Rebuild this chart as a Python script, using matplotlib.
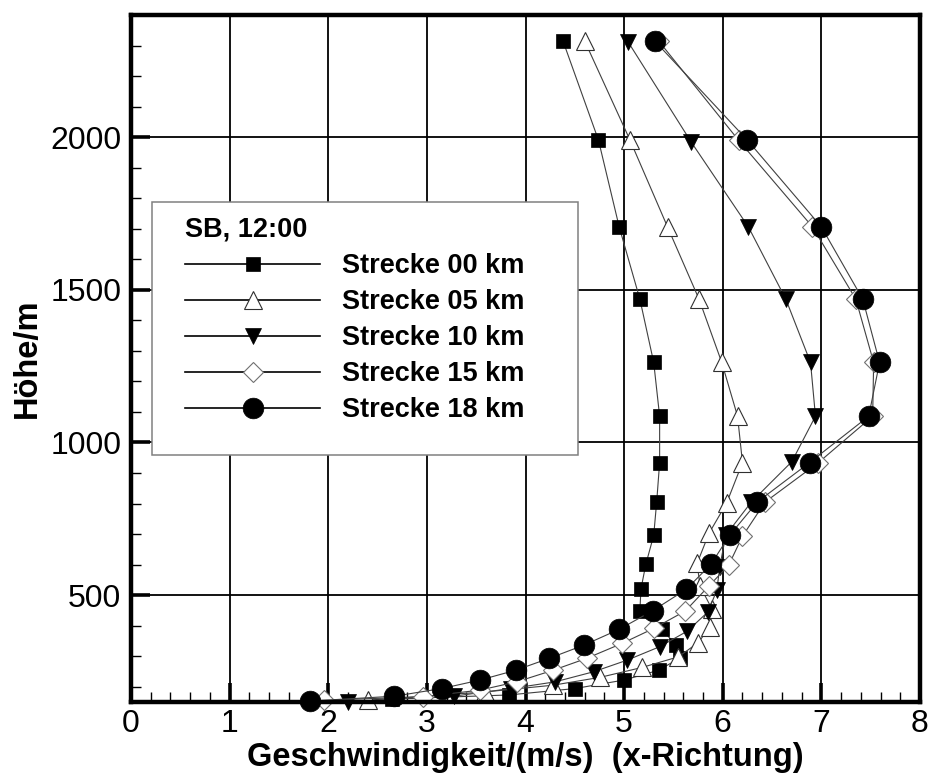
import matplotlib
matplotlib.use("Agg")
import matplotlib.pyplot as plt
from matplotlib.lines import Line2D
from matplotlib.patches import Rectangle
from matplotlib.ticker import MultipleLocator

plt.rcParams['font.family'] = ['Liberation Sans', 'DejaVu Sans']

# Hoehen (m) und Geschwindigkeiten (m/s) je Strecke
h00 = [2315, 1990, 1706, 1469, 1262, 1086, 934, 805, 696, 601, 519, 448, 388, 336, 295, 254, 222, 194, 173, 160]
u00 = [4.38, 4.74, 4.95, 5.16, 5.30, 5.36, 5.36, 5.33, 5.30, 5.22, 5.17, 5.16, 5.38, 5.53, 5.57, 5.35, 5.00, 4.50, 3.83, 2.65]

h05 = [2315, 1990, 1706, 1469, 1262, 1086, 934, 802, 702, 604, 529, 455, 396, 344, 298, 263, 231, 205, 183, 156]
u05 = [4.60, 5.06, 5.44, 5.76, 5.99, 6.15, 6.20, 6.04, 5.86, 5.74, 5.77, 5.89, 5.87, 5.75, 5.55, 5.18, 4.76, 4.28, 3.59, 2.40]

h10 = [2312, 1984, 1706, 1469, 1262, 1086, 937, 805, 696, 593, 516, 445, 382, 331, 287, 249, 216, 194, 169, 151]
u10 = [5.04, 5.68, 6.26, 6.64, 6.89, 6.94, 6.70, 6.29, 6.03, 5.97, 5.94, 5.85, 5.64, 5.36, 5.03, 4.69, 4.30, 3.85, 3.27, 2.20]

h15 = [2315, 1990, 1706, 1469, 1262, 1086, 934, 805, 693, 598, 530, 448, 391, 342, 293, 254, 216, 189, 167, 156]
u15 = [5.35, 6.16, 6.91, 7.35, 7.53, 7.52, 6.97, 6.43, 6.20, 6.06, 5.86, 5.62, 5.30, 4.98, 4.62, 4.28, 3.91, 3.54, 2.96, 1.96]

h18 = [2315, 1990, 1706, 1469, 1262, 1086, 934, 805, 696, 601, 519, 449, 388, 336, 293, 254, 222, 194, 169, 153]
u18 = [5.31, 6.25, 7.00, 7.42, 7.59, 7.48, 6.88, 6.35, 6.07, 5.88, 5.63, 5.29, 4.95, 4.59, 4.24, 3.90, 3.54, 3.15, 2.67, 1.81]

labels = ["Strecke 00 km", "Strecke 05 km", "Strecke 10 km", "Strecke 15 km", "Strecke 18 km"]

fig = plt.figure(figsize=(9.29, 7.74), dpi=100)
ax = fig.add_axes([131/929, 1 - 702/774, 789/929, 687/774])

linecol = "#404040"
stile = [
    dict(marker="s", ms=10.6, mfc="black", mec="black", mew=0.5),
    dict(marker="^", ms=12.6, mfc="white", mec="#303030", mew=0.8),
    dict(marker="v", ms=11.2, mfc="black", mec="black", mew=0.5),
    dict(marker="D", ms=10.5, mfc="white", mec="#707070", mew=0.8),
    dict(marker="o", ms=14.9, mfc="black", mec="black", mew=0.5),
]
daten = [(u00, h00), (u05, h05), (u10, h10), (u15, h15), (u18, h18)]

handles = []
for (u, h), st, lab in zip(daten, stile, labels):
    ax.plot(u, h, color=linecol, lw=0.8, clip_on=False, zorder=3, **st)
    handles.append(Line2D([], [], color="black", lw=1.2, **st))

ax.set_xlim(0, 8)
ax.set_ylim(150, 2400)
ax.xaxis.set_major_locator(MultipleLocator(1))
ax.xaxis.set_minor_locator(MultipleLocator(0.2))
ax.yaxis.set_major_locator(MultipleLocator(500))
ax.yaxis.set_minor_locator(MultipleLocator(100))

ax.grid(True, which="major", color="black", lw=1.3, zorder=1)
ax.set_axisbelow(True)
for s in ax.spines.values():
    s.set_linewidth(3.2)
    s.set_zorder(5)

ax.tick_params(which="major", direction="in", length=14, width=2.6, labelsize=23, pad=7)
ax.tick_params(which="minor", direction="in", length=7, width=1.0)
ax.tick_params(axis="x", which="major", pad=5)

ax.set_xlabel("Geschwindigkeit/(m/s)  (x-Richtung)", fontsize=23.5, fontweight="bold", labelpad=2)
ax.set_ylabel("Höhe/m", fontsize=23.5, fontweight="bold", labelpad=5)

# Rahmen der Legende
rahmen = Rectangle((0.0266, 0.3595), 0.5399, 0.3683, transform=ax.transAxes,
                   facecolor="white", edgecolor="#808080", lw=1.1, zorder=6)
ax.add_patch(rahmen)

leg = ax.legend(handles, labels, title="SB, 12:00", loc="upper left",
                bbox_to_anchor=(0.0684, 0.706), frameon=False,
                borderaxespad=0, borderpad=0,
                prop={"weight": "bold", "size": 19.5}, handlelength=5.0, handletextpad=0.8,
                labelspacing=0.37, alignment="left")
leg.get_title().set_fontsize(19.5)
leg.get_title().set_fontweight("bold")
leg.set_zorder(7)

fig.savefig("out.png", dpi=100)
